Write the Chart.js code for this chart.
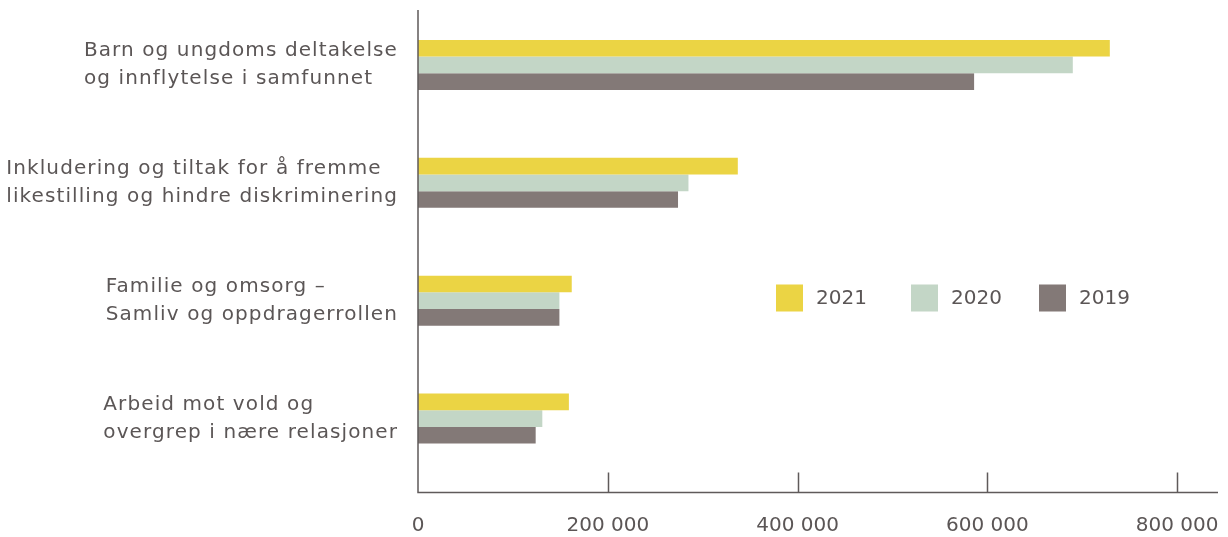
<!DOCTYPE html>
<html>
<head>
<meta charset="utf-8">
<script src="https://cdn.jsdelivr.net/npm/chart.js@4"></script>
<style>
  html, body { margin: 0; padding: 0; background: #fff; }
  #wrap { width: 1228px; height: 537px; }
</style>
</head>
<body>
<div id="wrap"><canvas id="chart"></canvas></div>
<script>
const categories = [
  ["Barn og ungdoms deltakelse", "og innflytelse i samfunnet"],
  ["Inkludering og tiltak for å fremme", "likestilling og hindre diskriminering"],
  ["Familie og omsorg –", "Samliv og oppdragerrollen"],
  ["Arbeid mot vold og", "overgrep i nære relasjoner"]
];
const years = ["2021", "2020", "2019"];
const values2021 = [729000, 337000, 162000, 159000];
const values2020 = [690000, 285000, 149000, 131000];
const values2019 = [586000, 274000, 149000, 124000];
const xTicks = [0, 200000, 400000, 600000, 800000];

const colors = ["#ebd444", "#c3d6c6", "#837977"];
const textColor = "#5b5656";
const axisColor = "#5f5a5a";
const fontFamily = "'DejaVu Sans', sans-serif";

const fmt = v => String(v).replace(/\B(?=(\d{3})+(?!\d))/g, " ");

// axis lines, inner ticks, category labels and legend
const decor = {
  id: "decor",
  afterDraw(chart) {
    const { ctx, chartArea, scales } = chart;
    const xs = scales.x, ys = scales.y;
    const axisY = chartArea.bottom + 15;
    ctx.save();
    ctx.strokeStyle = axisColor;
    ctx.lineWidth = 1.5;
    ctx.beginPath();
    ctx.moveTo(chartArea.left, chartArea.top + 4);
    ctx.lineTo(chartArea.left, axisY);
    ctx.lineTo(chartArea.right, axisY);
    xTicks.slice(1).forEach(t => {
      const px = Math.round(xs.getPixelForValue(t)) + 0.5;
      ctx.moveTo(px, axisY);
      ctx.lineTo(px, axisY - 20);
    });
    ctx.stroke();

    ctx.fillStyle = textColor;
    ctx.font = "20px " + fontFamily;
    ctx.textBaseline = "middle";
    ctx.textAlign = "left";
    ctx.letterSpacing = "1.1px";
    categories.forEach((lines, i) => {
      const cy = ys.getPixelForValue(i);
      const w = Math.max(...lines.map(l => ctx.measureText(l).width));
      const x0 = chartArea.left - 20 - w;
      lines.forEach((l, j) => {
        ctx.fillText(l, x0, cy + (j - (lines.length - 1) / 2) * 28);
      });
    });
    ctx.letterSpacing = "0px";

    const legendX = [776, 911, 1039];
    const legendY = 298;
    chart.data.datasets.forEach((ds, i) => {
      ctx.fillStyle = ds.backgroundColor;
      ctx.fillRect(legendX[i], legendY - 13.5, 27, 27);
      ctx.fillStyle = textColor;
      ctx.fillText(ds.label, legendX[i] + 40, legendY + 1);
    });
    ctx.restore();
  }
};

new Chart(document.getElementById("chart"), {
  type: "bar",
  data: {
    labels: categories,
    datasets: [
      { label: years[0], data: values2021, backgroundColor: colors[0] },
      { label: years[1], data: values2020, backgroundColor: colors[1] },
      { label: years[2], data: values2019, backgroundColor: colors[2] }
    ]
  },
  options: {
    indexAxis: "y",
    responsive: true,
    maintainAspectRatio: false,
    animation: false,
    layout: { padding: { left: 418, right: 10, top: 6, bottom: 0 } },
    datasets: {
      bar: { barPercentage: 1, categoryPercentage: 0.425 }
    },
    scales: {
      y: {
        display: false
      },
      x: {
        min: 0,
        max: 843000,
        grid: { display: false },
        border: { display: false },
        afterBuildTicks: axis => { axis.ticks = xTicks.map(v => ({ value: v })); },
        afterFit: axis => {
          axis.height = 59.5;
          axis.paddingLeft = 0;
          axis.paddingRight = 0;
        },
        ticks: {
          padding: 28,
          color: textColor,
          font: { family: fontFamily, size: 20 },
          callback: v => fmt(v)
        }
      }
    },
    plugins: {
      legend: { display: false },
      tooltip: { enabled: false }
    }
  },
  plugins: [decor]
});
</script>
</body>
</html>
